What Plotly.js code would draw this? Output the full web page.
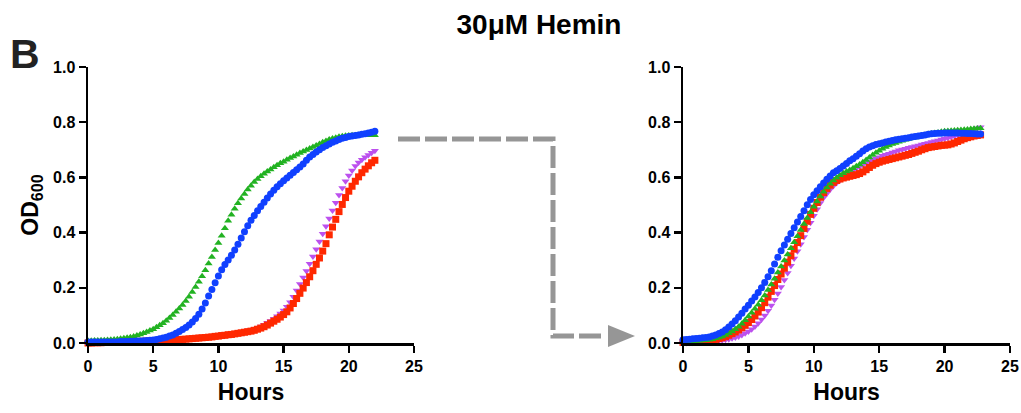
<!DOCTYPE html>
<html>
<head>
<meta charset="utf-8">
<script src="https://cdn.plot.ly/plotly-3.0.1.min.js"></script>
<style>
  html, body { margin: 0; padding: 0; background: #fff; }
  #chart { width: 1021px; height: 413px; }
</style>
</head>
<body>
<div id="chart"></div>
<script>
// Sampling schedule: one OD600 reading every 15 minutes
const stepHours = 0.25;
const leftHours = Array.from({length: 89}, (_, i) => i * stepHours);   // 0 .. 22 h
const rightHours = Array.from({length: 92}, (_, i) => i * stepHours);  // 0 .. 22.75 h

// First culture (left panel)
const leftGreen = [
  0.008,0.008,0.009,0.009,0.010,0.010,0.011,0.012,0.013,0.014,0.015,0.017,0.019,0.021,0.024,0.027,
  0.031,0.035,0.040,0.045,0.050,0.057,0.064,0.072,0.081,0.091,0.101,0.113,0.125,0.138,0.152,0.168,
  0.185,0.203,0.222,0.242,0.264,0.288,0.312,0.337,0.362,0.389,0.416,0.443,0.465,0.486,0.506,0.524,
  0.540,0.556,0.570,0.583,0.594,0.604,0.613,0.621,0.629,0.637,0.644,0.651,0.657,0.664,0.670,0.676,
  0.682,0.688,0.694,0.699,0.705,0.710,0.716,0.721,0.727,0.732,0.737,0.741,0.744,0.747,0.749,0.751,
  0.752,0.753,0.753,0.754,0.754,0.754,0.754,0.753,0.753
];
const leftBlue = [
  0.004,0.004,0.004,0.004,0.004,0.004,0.004,0.004,0.004,0.004,0.005,0.005,0.005,0.006,0.006,0.007,
  0.007,0.008,0.009,0.010,0.011,0.013,0.015,0.018,0.021,0.025,0.029,0.035,0.042,0.049,0.056,0.065,
  0.076,0.089,0.104,0.123,0.145,0.170,0.194,0.218,0.243,0.265,0.284,0.301,0.318,0.337,0.358,0.380,
  0.403,0.425,0.445,0.462,0.479,0.495,0.510,0.525,0.540,0.553,0.566,0.577,0.588,0.598,0.608,0.618,
  0.628,0.638,0.649,0.662,0.674,0.683,0.692,0.700,0.708,0.715,0.721,0.727,0.732,0.737,0.742,0.745,
  0.748,0.750,0.752,0.754,0.756,0.758,0.761,0.764,0.767
];
const leftRed = [
  0.000,0.000,0.001,0.001,0.001,0.002,0.002,0.002,0.003,0.003,0.003,0.004,0.004,0.004,0.005,0.005,
  0.006,0.006,0.007,0.007,0.008,0.008,0.009,0.009,0.010,0.011,0.011,0.012,0.013,0.013,0.014,0.015,
  0.016,0.017,0.018,0.019,0.020,0.021,0.022,0.024,0.025,0.027,0.028,0.030,0.031,0.033,0.035,0.037,
  0.039,0.041,0.043,0.046,0.050,0.054,0.059,0.065,0.072,0.079,0.086,0.094,0.103,0.113,0.127,0.143,
  0.161,0.180,0.199,0.219,0.240,0.262,0.285,0.308,0.333,0.360,0.392,0.420,0.448,0.476,0.502,0.527,
  0.550,0.568,0.586,0.602,0.617,0.630,0.642,0.653,0.662
];
const leftPurple = [
  0.002,0.002,0.003,0.003,0.003,0.004,0.004,0.004,0.005,0.005,0.005,0.006,0.006,0.006,0.007,0.007,
  0.008,0.008,0.009,0.009,0.010,0.010,0.011,0.011,0.012,0.013,0.013,0.014,0.015,0.015,0.016,0.017,
  0.018,0.019,0.020,0.021,0.022,0.023,0.024,0.026,0.027,0.029,0.030,0.032,0.034,0.036,0.038,0.040,
  0.042,0.045,0.048,0.051,0.055,0.060,0.066,0.073,0.080,0.088,0.097,0.107,0.118,0.131,0.148,0.168,
  0.190,0.214,0.237,0.261,0.287,0.313,0.340,0.368,0.396,0.423,0.451,0.480,0.508,0.536,0.562,0.586,
  0.607,0.625,0.641,0.654,0.664,0.673,0.681,0.689,0.697
];

// Sub-culture (right panel)
const rightGreen = [
  0.004,0.005,0.005,0.006,0.007,0.008,0.009,0.010,0.012,0.014,0.017,0.020,0.024,0.029,0.035,0.042,
  0.050,0.059,0.070,0.082,0.096,0.110,0.124,0.139,0.155,0.172,0.192,0.212,0.233,0.255,0.277,0.299,
  0.321,0.343,0.365,0.387,0.409,0.431,0.453,0.474,0.494,0.513,0.531,0.548,0.563,0.577,0.589,0.599,
  0.608,0.615,0.621,0.627,0.633,0.640,0.647,0.655,0.663,0.672,0.681,0.689,0.697,0.704,0.710,0.716,
  0.721,0.725,0.729,0.733,0.736,0.739,0.742,0.745,0.748,0.751,0.754,0.757,0.759,0.761,0.763,0.765,
  0.767,0.768,0.769,0.770,0.771,0.772,0.773,0.774,0.775,0.776,0.777,0.778
];
const rightBlue = [
  0.012,0.013,0.014,0.015,0.016,0.017,0.019,0.020,0.022,0.025,0.029,0.034,0.040,0.048,0.058,0.069,
  0.081,0.094,0.108,0.123,0.137,0.152,0.167,0.183,0.200,0.219,0.240,0.262,0.286,0.311,0.334,0.355,
  0.376,0.397,0.418,0.438,0.458,0.479,0.501,0.520,0.537,0.552,0.566,0.580,0.593,0.605,0.617,0.624,
  0.632,0.641,0.650,0.660,0.668,0.677,0.686,0.696,0.704,0.710,0.715,0.719,0.722,0.725,0.728,0.731,
  0.734,0.736,0.738,0.740,0.742,0.744,0.746,0.748,0.750,0.752,0.754,0.756,0.758,0.759,0.760,0.760,
  0.761,0.761,0.761,0.761,0.761,0.760,0.760,0.759,0.759,0.758,0.757,0.757
];
const rightRed = [
  0.002,0.002,0.003,0.003,0.004,0.005,0.006,0.007,0.009,0.011,0.013,0.016,0.019,0.023,0.028,0.034,
  0.040,0.047,0.055,0.064,0.074,0.085,0.098,0.112,0.128,0.146,0.166,0.187,0.208,0.230,0.250,0.271,
  0.293,0.316,0.340,0.364,0.389,0.415,0.441,0.466,0.488,0.509,0.528,0.545,0.560,0.572,0.582,0.589,
  0.594,0.598,0.601,0.604,0.607,0.610,0.614,0.620,0.628,0.636,0.644,0.650,0.655,0.659,0.662,0.665,
  0.668,0.671,0.674,0.677,0.680,0.683,0.687,0.691,0.695,0.700,0.704,0.708,0.710,0.712,0.714,0.716,
  0.717,0.718,0.721,0.725,0.730,0.735,0.740,0.744,0.747,0.750,0.752,0.754
];
const rightPurple = [
  0.000,0.000,0.001,0.001,0.002,0.002,0.003,0.004,0.005,0.006,0.007,0.008,0.010,0.012,0.014,0.017,
  0.020,0.024,0.029,0.035,0.042,0.050,0.060,0.072,0.085,0.100,0.117,0.136,0.157,0.179,0.203,0.228,
  0.254,0.280,0.306,0.332,0.358,0.384,0.410,0.436,0.461,0.485,0.507,0.526,0.542,0.556,0.569,0.580,
  0.590,0.599,0.608,0.617,0.625,0.632,0.639,0.646,0.652,0.658,0.663,0.668,0.673,0.678,0.682,0.686,
  0.690,0.694,0.698,0.701,0.704,0.707,0.710,0.713,0.716,0.719,0.722,0.725,0.728,0.731,0.734,0.737,
  0.740,0.743,0.746,0.749,0.753,0.757,0.761,0.766,0.770,0.774,0.778,0.782
];

const xTicks = [0, 5, 10, 15, 20, 25];
const yTicks = [0, 0.2, 0.4, 0.6, 0.8, 1.0];

const COLORS = {
  green: 'rgb(34,178,34)',
  blue: 'rgb(16,64,255)',
  red: 'rgb(255,40,0)',
  purple: 'rgb(188,80,238)'
};

const FONT = 'Liberation Sans, Arial, Helvetica, sans-serif';

function series(x, y, color, symbol, xa, ya) {
  return {
    x: x, y: y, xaxis: xa, yaxis: ya,
    type: 'scatter', mode: 'markers', cliponaxis: false, showlegend: false,
    marker: { color: color, symbol: symbol, size: 7, line: { width: 0 } },
    hoverinfo: 'x+y'
  };
}

const traces = [
  series(leftHours, leftPurple, COLORS.purple, 'triangle-down', 'x', 'y'),
  series(leftHours, leftRed, COLORS.red, 'square', 'x', 'y'),
  series(leftHours, leftGreen, COLORS.green, 'triangle-up', 'x', 'y'),
  series(leftHours, leftBlue, COLORS.blue, 'circle', 'x', 'y'),
  series(rightHours, rightPurple, COLORS.purple, 'triangle-down', 'x2', 'y2'),
  series(rightHours, rightRed, COLORS.red, 'square', 'x2', 'y2'),
  series(rightHours, rightGreen, COLORS.green, 'triangle-up', 'x2', 'y2'),
  series(rightHours, rightBlue, COLORS.blue, 'circle', 'x2', 'y2')
];

// Plot area in pixels, used to place the connector arrow in paper units
const M = { l: 88, r: 11, t: 67, b: 70 };
const W = 1021, H = 413;
const plotW = W - M.l - M.r, plotH = H - M.t - M.b;
const px = v => (v - M.l) / plotW;
const py = v => (H - M.b - v) / plotH;

function xAxis(domain, anchor) {
  return {
    domain: domain, anchor: anchor, range: [0, 25], tickvals: xTicks,
    showgrid: false, zeroline: false, showline: true, linecolor: '#000', linewidth: 2.5,
    ticks: 'outside', ticklen: 7, tickwidth: 2.5, tickcolor: '#000',
    tickfont: { family: FONT, size: 16, weight: 'bold', color: '#000' },
    title: { text: 'Hours', standoff: 10, font: { family: FONT, size: 23, weight: 'bold', color: '#000' } },
    fixedrange: true
  };
}
function yAxis(anchor, withTitle) {
  const ax = {
    domain: [0, 1], anchor: anchor, range: [0, 1], tickvals: yTicks, tickformat: '.1f',
    showgrid: false, zeroline: false, showline: true, linecolor: '#000', linewidth: 2.5,
    ticks: 'outside', ticklen: 7, tickwidth: 2.5, tickcolor: '#000',
    tickfont: { family: FONT, size: 16, weight: 'bold', color: '#000' },
    fixedrange: true
  };
  if (withTitle) {
    ax.title = { text: 'OD<sub>600</sub>', standoff: 8, font: { family: FONT, size: 23, weight: 'bold', color: '#000' } };
  }
  return ax;
}

const arrowGray = 'rgb(150,150,150)';

const layout = {
  width: W, height: H,
  margin: M,
  paper_bgcolor: '#fff', plot_bgcolor: '#fff',
  title: {
    text: '30μM Hemin', x: 539 / W, xref: 'container', xanchor: 'center',
    y: 1 - 24 / H, yref: 'container', yanchor: 'middle',
    font: { family: FONT, size: 28, weight: 'bold', color: '#000' }
  },
  xaxis: xAxis([0, px(414)], 'y'),
  yaxis: yAxis('x', true),
  xaxis2: xAxis([px(683), 1], 'y2'),
  yaxis2: yAxis('x2', false),
  annotations: [{
    text: 'B', xref: 'paper', yref: 'paper', x: px(25), y: py(54),
    xanchor: 'center', yanchor: 'middle', showarrow: false,
    font: { family: FONT, size: 41, weight: 'bold', color: '#222' }
  }],
  shapes: [
    {
      type: 'path', xref: 'paper', yref: 'paper',
      path: `M ${px(398)},${py(139)} L ${px(553)},${py(139)} L ${px(553)},${py(336)} L ${px(603)},${py(336)}`,
      line: { color: arrowGray, width: 5, dash: '22px,5px' }
    },
    {
      type: 'path', xref: 'paper', yref: 'paper',
      path: `M ${px(608)},${py(325)} L ${px(635)},${py(336)} L ${px(608)},${py(347)} Z`,
      fillcolor: arrowGray, line: { width: 0 }
    }
  ]
};

Plotly.newPlot('chart', traces, layout, { displayModeBar: false, staticPlot: true });
</script>
</body>
</html>
